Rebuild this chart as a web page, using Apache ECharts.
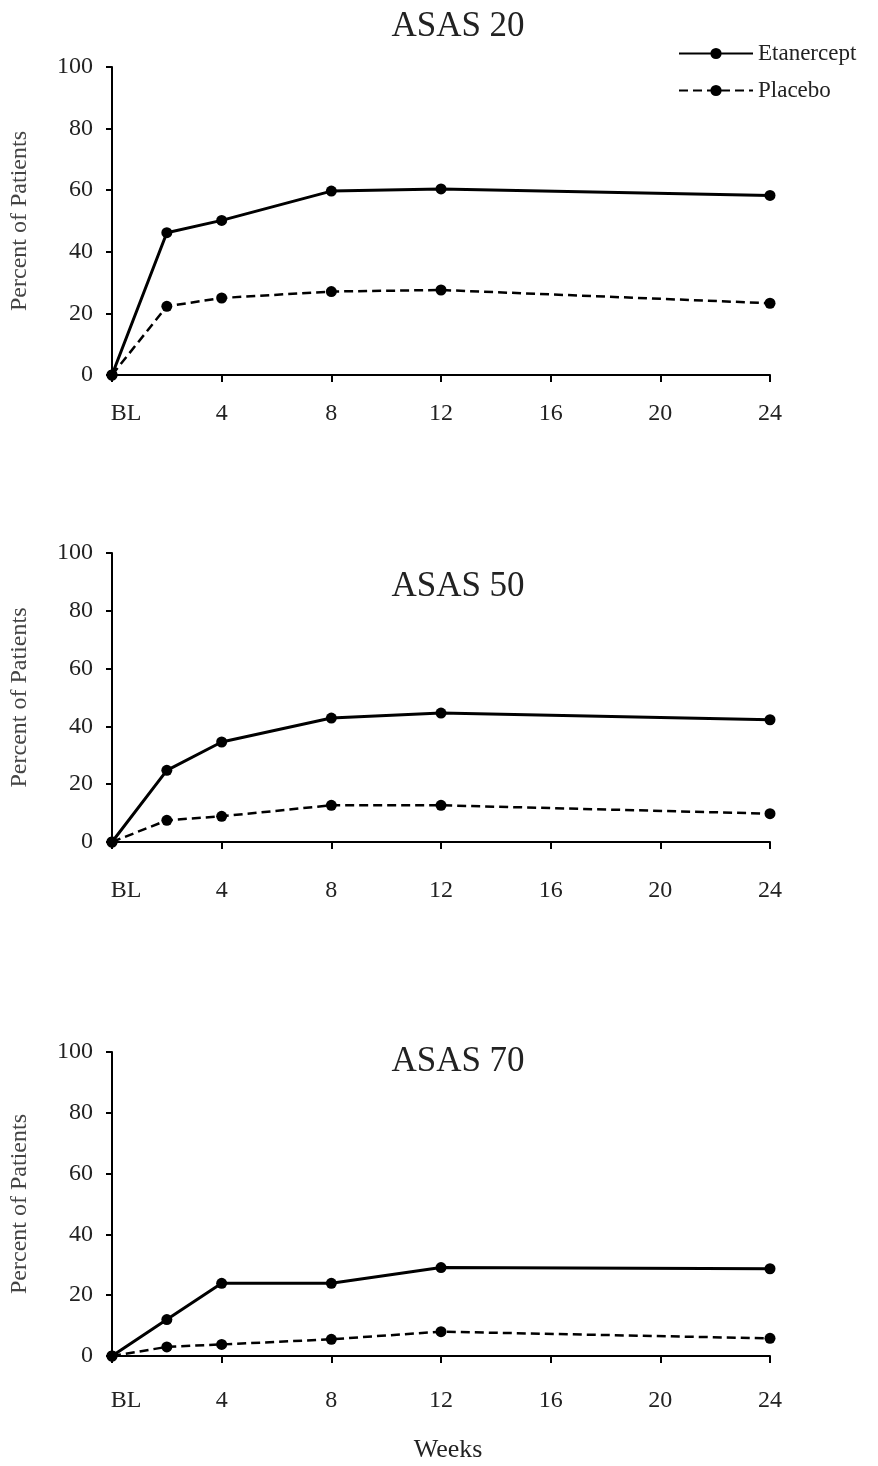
<!DOCTYPE html>
<html>
<head>
<meta charset="utf-8">
<script src="https://cdn.jsdelivr.net/npm/echarts@6/dist/echarts.min.js"></script>
<style>html,body{margin:0;padding:0;background:#fff}#c{width:878px;height:1466px}</style>
</head>
<body>
<div id="c"></div>
<script>
var weeks = [0, 2, 4, 8, 12, 24];
var xTicks = [0, 4, 8, 12, 16, 20, 24];
var panelTitles = ['ASAS 20', 'ASAS 50', 'ASAS 70'];
var seriesNames = ['Etanercept', 'Placebo'];
var etan20 = [0, 46.2, 50.2, 59.7, 60.4, 58.3];
var plac20 = [0, 22.3, 25, 27.1, 27.6, 23.3];
var etan50 = [0, 24.8, 34.6, 42.9, 44.6, 42.3];
var plac50 = [0, 7.5, 8.9, 12.7, 12.7, 9.8];
var etan70 = [0, 12, 23.9, 23.9, 29.1, 28.7];
var plac70 = [0, 3, 3.8, 5.5, 8, 5.8];

var serif = 'Liberation Serif';
var grids = [
  {left: 109, right: 108, top: 67, height: 308},
  {left: 109, right: 108, top: 553, height: 289},
  {left: 109, right: 108, top: 1052, height: 304}
];
var labelMargins = [27, 37, 33];
var titleTops = [4, 564, 1039];
var panelData = [[etan20, plac20], [etan50, plac50], [etan70, plac70]];

function pairs(arr) { return weeks.map(function (w, i) { return [w, arr[i]]; }); }

var xAxes = [], yAxes = [], series = [], titles = [];
for (var p = 0; p < 3; p++) {
  titles.push({text: panelTitles[p], left: 453, top: titleTops[p], textAlign: 'center',
    textStyle: {fontFamily: serif, fontSize: 35, fontWeight: 'normal', color: '#222'}});
  xAxes.push({
    type: 'value', gridIndex: p, min: 0, max: 24, interval: 4,
    axisLine: {lineStyle: {color: '#000', width: 2}},
    axisTick: {show: true, length: 7, lineStyle: {color: '#000', width: 2}},
    splitLine: {show: false},
    axisLabel: {
      margin: labelMargins[p], fontFamily: serif, fontSize: 24, color: '#222',
      formatter: function (v) { return v === 0 ? '{bl|BL}' : String(v); },
      rich: {bl: {fontFamily: serif, fontSize: 24, color: '#222', padding: [0, 0, 0, 28]}}
    },
    name: p === 2 ? 'Weeks' : '', nameLocation: 'middle', nameGap: 81,
    nameTextStyle: {fontFamily: serif, fontSize: 26, color: '#222', padding: [0, 0, 0, 14]}
  });
  yAxes.push({
    type: 'value', gridIndex: p, min: 0, max: 100, interval: 20,
    axisLine: {show: true, lineStyle: {color: '#000', width: 2}},
    axisTick: {show: true, length: 6, lineStyle: {color: '#000', width: 2}},
    splitLine: {show: false},
    axisLabel: {margin: 19, fontFamily: serif, fontSize: 24, color: '#222'},
    name: 'Percent of Patients', nameLocation: 'middle', nameGap: 80, nameRotate: 90,
    nameTextStyle: {fontFamily: serif, fontSize: 24, color: '#444'}
  });
  series.push({
    name: seriesNames[0], type: 'line', xAxisIndex: p, yAxisIndex: p,
    data: pairs(panelData[p][0]), symbol: 'circle', symbolSize: 11,
    lineStyle: {color: '#000', width: 3}, itemStyle: {color: '#000'}, z: 3
  });
  series.push({
    name: seriesNames[1], type: 'line', xAxisIndex: p, yAxisIndex: p,
    data: pairs(panelData[p][1]), symbol: 'circle', symbolSize: 11,
    lineStyle: {color: '#000', width: 2.5, type: [9, 5]}, itemStyle: {color: '#000'}, z: 3
  });
}

var chart = echarts.init(document.getElementById('c'), null, {renderer: 'canvas'});
chart.setOption({
  animation: false,
  backgroundColor: '#fff',
  title: titles,
  legend: {
    data: seriesNames, orient: 'vertical', left: 673, top: 37,
    itemWidth: 74, itemHeight: 14, itemGap: 14,
    textStyle: {fontFamily: serif, fontSize: 23, color: '#222'}
  },
  grid: grids,
  xAxis: xAxes,
  yAxis: yAxes,
  series: series
});
</script>
</body>
</html>
